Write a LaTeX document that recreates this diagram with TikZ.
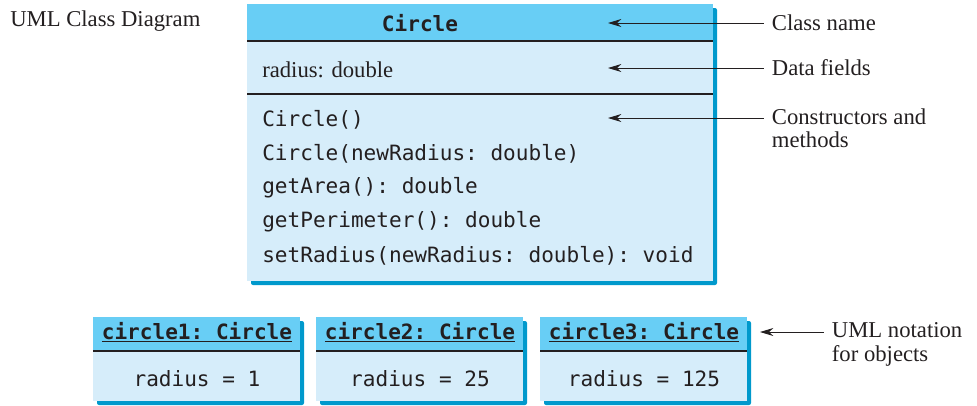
\documentclass[tikz,border=0pt]{standalone}
\usepackage{fontspec}
\setmainfont{Liberation Serif}
\setmonofont{DejaVu Sans Mono}
\usepackage{xcolor}
\usepackage{tikz}
\usetikzlibrary{arrows.meta,positioning}
\definecolor{hdrblue}{RGB}{104,206,245}
\definecolor{bodyblue}{RGB}{214,237,250}
\definecolor{shadeblue}{RGB}{0,153,204}
\definecolor{ink}{RGB}{35,31,32}

\begin{document}
\begin{tikzpicture}[>={Stealth[length=10pt,width=6pt]},x=0.75pt,y=-0.75pt,
  note/.style={font=\fontsize{17}{17.5}\selectfont,text=ink,anchor=west,align=left,inner sep=2pt},
  member/.style={font=\fontsize{15.8}{18}\selectfont\ttfamily,text=ink,inner sep=0pt},
  divider/.style={line width=0.9pt,ink},
  pointer/.style={->,line width=0.7pt,ink,shorten <=4pt}]
  \useasboundingbox (0,0) rectangle (977,405);
  \node[note,inner sep=0pt] (title) at (10,21) {UML Class Diagram};
  % class box
  \fill[shadeblue,rounded corners=1.5pt] (251,8) rectangle (717,285);
  \fill[hdrblue] (247,4) rectangle (713,41);
  \fill[bodyblue] (247,41) rectangle (713,281);
  \draw[divider] (247,41) -- (713,41);
  \draw[divider] (247,94) -- (713,94);
  \node[member,font=\fontsize{15.8}{18}\selectfont\ttfamily\bfseries] (clsname) at (420,23) {Circle};
  \node[note,inner sep=0pt] (field) at (262,70) {radius: double};
  \foreach \y/\n/\txt in {120/1/Circle(), 154/2/Circle(newRadius: double),
      188/3/getArea(): double, 222/4/getPerimeter(): double,
      256/5/setRadius(newRadius: double): void}
    \node[member,anchor=west] (meth\n) at (262,\y) {\txt};
  % side notes
  \coordinate (nametip) at (608,23);
  \coordinate (fieldtip) at (608,68);
  \coordinate (ctortip) at (608,118);
  \node[note] (namenote) at (769,23) {Class name};
  \node[note] (fieldnote) at (769,68) {Data fields};
  \node[note] (ctornote) at (769,128.5) {Constructors and\\methods};
  \draw[pointer] (namenote.west) -- (nametip);
  \draw[pointer] (fieldnote.west) -- (fieldtip);
  \draw[pointer] (ctornote.west |- ctortip) -- (ctortip);
  % object boxes
  \foreach \x/\n/\r in {93/1/1, 316/2/25, 540/3/125} {
    \fill[shadeblue,rounded corners=1.5pt] (\x+4,321) rectangle (\x+211,405);
    \fill[hdrblue] (\x,317) rectangle (\x+207,351);
    \fill[bodyblue] (\x,351) rectangle (\x+207,401);
    \draw[divider] (\x,351) -- (\x+207,351);
    \node[member,font=\fontsize{15.8}{18}\selectfont\ttfamily\bfseries] (objname\n) at (\x+104,332) {\underline{circle\n: Circle}};
    \node[member] (objval\n) at (\x+104,379) {radius = \r};
  }
  \coordinate (objtip) at (760,332);
  \node[note] (objnote) at (829,344.5) {UML notation\\for objects};
  \draw[pointer] (objnote.west |- objtip) -- (objtip);
\end{tikzpicture}
\end{document}
